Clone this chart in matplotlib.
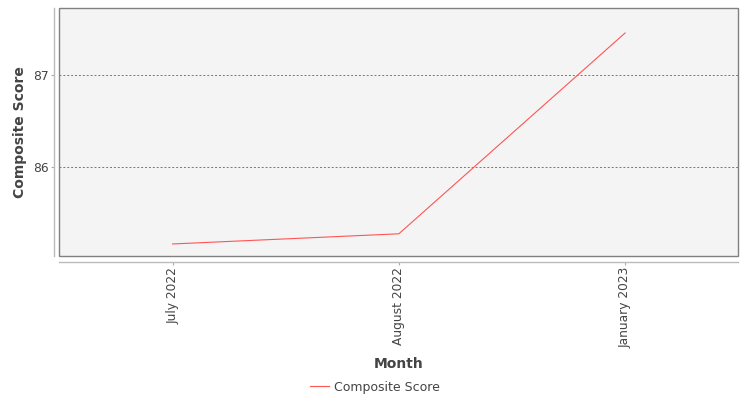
import matplotlib.pyplot as plt
from matplotlib.patches import Rectangle

months = ["July 2022", "August 2022", "January 2023"]
scores = [85.17, 85.28, 87.45]
y_ticks = [86, 87]

fig = plt.figure(figsize=(7.5, 4), dpi=100)
ax = fig.add_axes([0.0793, 0.36, 0.905, 0.62])
ax.set_facecolor("#f4f4f4")

x = list(range(len(months)))
ax.plot(x, scores, color="#ff5555", lw=0.8, label="Composite Score")

ax.set_xlim(-0.5, 2.5)
ax.set_ylim(85.04, 87.72)
ax.set_xticks(x)
ax.set_xticklabels(months)
ax.set_yticks(y_ticks)
ax.set_yticklabels([str(t) for t in y_ticks])
ax.tick_params(axis="both", length=2, width=0.8, color="#aaaaaa", pad=2,
               labelsize=8.8, labelcolor="#444444")
ax.tick_params(axis="x", labelrotation=90)

ax.grid(axis="y", color="#777777", lw=0.7, linestyle=(0, (2, 2)))
ax.set_axisbelow(True)

for side in ["top", "right"]:
    ax.spines[side].set_visible(False)
for side in ["left", "bottom"]:
    ax.spines[side].set_position(("outward", 4))
    ax.spines[side].set_color("#bbbbbb")
    ax.spines[side].set_linewidth(1.0)

box = Rectangle((0, 0), 1, 1, transform=ax.transAxes, fill=False,
                edgecolor="#808080", lw=1.0, clip_on=False, zorder=5)
ax.add_patch(box)

ax.set_xlabel("Month", fontsize=10, fontweight="bold", color="#444444", labelpad=6)
ax.set_ylabel("Composite Score", fontsize=10, fontweight="bold", color="#444444", labelpad=4)

fig.legend(loc="center", bbox_to_anchor=(0.5, 0.0325), frameon=False,
           fontsize=9, labelcolor="#444444", handlelength=1.5, handletextpad=0.4)

fig.savefig("out.png", dpi=100)
